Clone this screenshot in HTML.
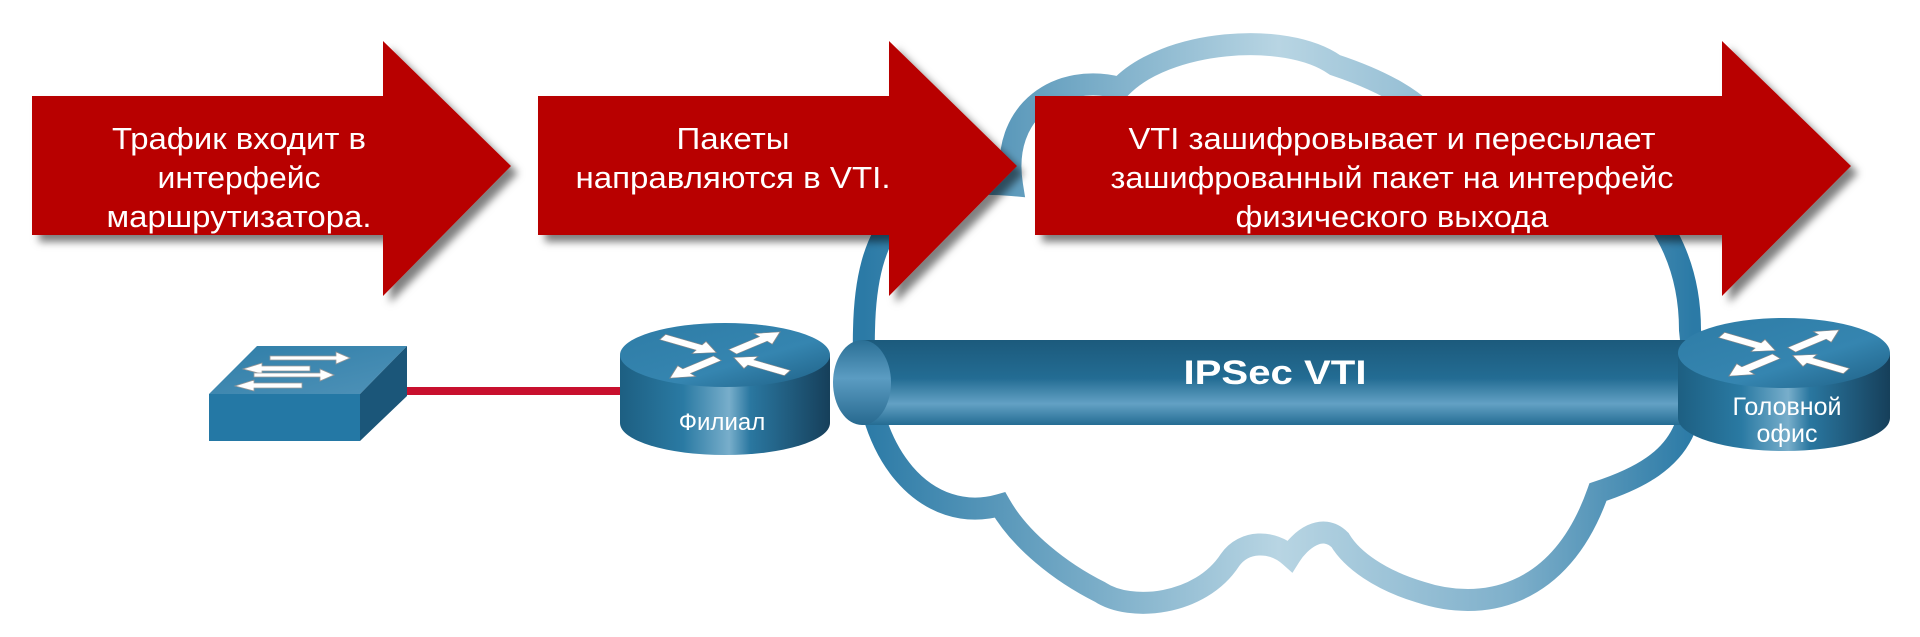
<!DOCTYPE html>
<html><head><meta charset="utf-8"><style>
html,body{margin:0;padding:0;background:#fff;}
svg{display:block;}
text{font-family:"Liberation Sans",sans-serif;fill:#fff;}
</style></head><body>
<svg width="1920" height="637" viewBox="0 0 1920 637" xmlns="http://www.w3.org/2000/svg">
<defs>
<linearGradient id="cg" x1="0" y1="0" x2="1" y2="0" gradientUnits="objectBoundingBox">
<stop offset="0" stop-color="#2b7aa6"/><stop offset="0.5" stop-color="#b8d5e3"/><stop offset="0.78" stop-color="#7fb0cb"/><stop offset="1" stop-color="#2b7aa6"/>
</linearGradient>
<linearGradient id="body" x1="0" y1="0" x2="1" y2="0">
<stop offset="0" stop-color="#1d5f82"/><stop offset="0.3" stop-color="#2a7aa3"/><stop offset="0.52" stop-color="#78aecb"/><stop offset="0.62" stop-color="#2a77a0"/><stop offset="1" stop-color="#163f5a"/>
</linearGradient>
<linearGradient id="top" x1="0" y1="0" x2="1" y2="1">
<stop offset="0" stop-color="#2e7ca6"/><stop offset="0.6" stop-color="#3585b0"/><stop offset="1" stop-color="#1e5f84"/>
</linearGradient>
<linearGradient id="tube" x1="0" y1="0" x2="0" y2="1">
<stop offset="0" stop-color="#1c5a7c"/><stop offset="0.45" stop-color="#236c93"/><stop offset="0.75" stop-color="#63a1c4"/><stop offset="1" stop-color="#246c93"/>
</linearGradient>
<linearGradient id="cap" x1="0" y1="0" x2="0" y2="1">
<stop offset="0" stop-color="#2a6f95"/><stop offset="0.45" stop-color="#5b9cc2"/><stop offset="1" stop-color="#27698f"/>
</linearGradient>
<linearGradient id="sw" x1="0" y1="0" x2="1" y2="1">
<stop offset="0" stop-color="#2f7ea8"/><stop offset="1" stop-color="#4f92b8"/>
</linearGradient>
<filter id="sh" x="-10%" y="-10%" width="130%" height="130%">
<feDropShadow dx="7" dy="7" stdDeviation="4" flood-color="#000" flood-opacity="0.5"/>
</filter>
<g id="rarrows" fill="#fff" stroke="#8a8a8a" stroke-width="1">
<g transform="scale(1,0.5)">
<polygon transform="rotate(-150)" points="72,-6 30,-6 30,-14 10,0 30,14 30,6 72,6"/>
<polygon transform="rotate(-40)" points="10,-6 50,-6 50,-14 72,0 50,14 50,6 10,6"/>
<polygon transform="rotate(140)" points="10,-6 50,-6 50,-14 72,0 50,14 50,6 10,6"/>
<polygon transform="rotate(30)" points="72,-6 30,-6 30,-14 10,0 30,14 30,6 72,6"/>
</g>
</g>
</defs>

<!-- cloud -->
<path d="M1000,505 C930,525 860,460 864,330 C866,230 900,175 1012,185 C1000,110 1060,72 1120,88 C1165,40 1285,30 1335,65 C1380,80 1420,100 1440,130 C1600,130 1690,210 1690,330 C1700,420 1690,462 1598,492 C1560,600 1480,612 1420,592 C1380,580 1352,560 1340,540 C1322,522 1300,540 1290,556 C1272,540 1244,540 1230,560 C1200,606 1130,612 1100,592 C1060,572 1020,540 1000,505 Z" fill="none" stroke="url(#cg)" stroke-width="22"/>

<!-- tunnel -->
<rect x="862" y="340" width="830" height="85" fill="url(#tube)"/>
<ellipse cx="862" cy="382.5" rx="29" ry="42.5" fill="url(#cap)"/>
<text x="1275" y="384" font-size="34" font-weight="bold" text-anchor="middle" textLength="183" lengthAdjust="spacingAndGlyphs">IPSec VTI</text>

<!-- switch link -->
<rect x="400" y="387" width="222" height="8" fill="#c8102e"/>

<!-- switch -->
<polygon points="209,394 257,346 407,346 360,394" fill="url(#sw)"/>
<polygon points="360,394 407,346 407,396 360,441" fill="#1b5679"/>
<rect x="209" y="394" width="151" height="47" fill="#2478a5"/>
<g fill="#fff" stroke="#999" stroke-width="0.8">
<polygon points="270,356 336,356 336,352 350,358 336,364 336,360 270,360"/>
<polygon points="243,369 262,363 262,366 310,366 310,371 262,371 262,374"/>
<polygon points="254,373 320,373 320,369 334,375 320,381 320,377 254,377"/>
<polygon points="235,386 254,380 254,383 302,383 302,388 254,388 254,391"/>
</g>

<!-- router Филиал -->
<g>
<path d="M620,355 L620,423 A105,32 0 0 0 830,423 L830,355 Z" fill="url(#body)"/>
<ellipse cx="725" cy="355" rx="105" ry="32" fill="url(#top)"/>
<use href="#rarrows" transform="translate(725,355)"/>
<text x="722" y="430" font-size="24" text-anchor="middle">Филиал</text>
</g>

<!-- router HQ -->
<g>
<path d="M1678,353 L1678,418 A106,33 0 0 0 1890,418 L1890,353 Z" fill="url(#body)"/>
<ellipse cx="1784" cy="353" rx="106" ry="35" fill="url(#top)"/>
<use href="#rarrows" transform="translate(1784,353)"/>
<text x="1787" y="415" font-size="25" text-anchor="middle">Головной</text>
<text x="1787" y="442" font-size="25" text-anchor="middle">офис</text>
</g>

<!-- arrows -->
<g fill="#b80000" filter="url(#sh)">
<polygon points="32,96 383,96 383,41 511,166 383,296 383,235 32,235"/>
<polygon points="538,96 889,96 889,41 1017,166 889,296 889,235 538,235"/>
<polygon points="1035,96 1722,96 1722,41 1851,166 1722,296 1722,235 1035,235"/>
</g>
<g font-size="31" text-anchor="middle">
<text x="239" y="149" textLength="254" lengthAdjust="spacingAndGlyphs">Трафик входит в</text>
<text x="239" y="188" textLength="163" lengthAdjust="spacingAndGlyphs">интерфейс</text>
<text x="239" y="227" textLength="265" lengthAdjust="spacingAndGlyphs">маршрутизатора.</text>
<text x="733" y="149" textLength="113" lengthAdjust="spacingAndGlyphs">Пакеты</text>
<text x="733" y="188" textLength="315" lengthAdjust="spacingAndGlyphs">направляются в VTI.</text>
<text x="1392" y="149" textLength="527" lengthAdjust="spacingAndGlyphs">VTI зашифровывает и пересылает</text>
<text x="1392" y="188" textLength="563" lengthAdjust="spacingAndGlyphs">зашифрованный пакет на интерфейс</text>
<text x="1392" y="227" textLength="313" lengthAdjust="spacingAndGlyphs">физического выхода</text>
</g>
</svg>
</body></html>
